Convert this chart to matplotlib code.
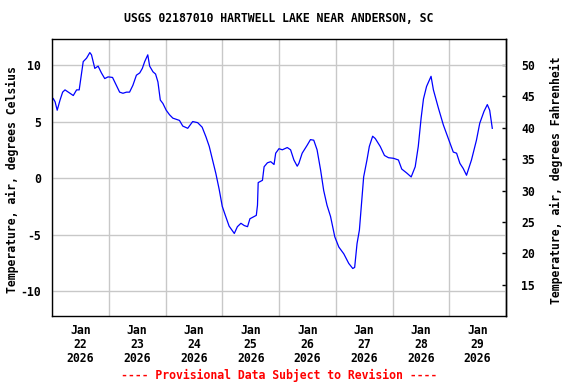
import matplotlib
matplotlib.use("Agg")
import matplotlib.pyplot as plt
import numpy as np
import pandas as pd

# hours after 2026-01-22 00:00 and air temperature (deg C)
hours = [0.0, 0.5, 1.3, 2.2, 3.4, 4.5, 5.5, 6.9, 9.0, 10.4, 11.5, 12.5, 13.2, 14.6,
         16.0, 16.7, 18.1, 19.5, 20.9, 22.3, 23.7, 25.6, 27.2, 28.6, 30.0, 31.5,
         32.8, 34.2, 35.7, 37.1, 38.2, 39.2, 40.5, 41.3, 42.7, 43.8, 44.8, 45.8,
         46.9, 48.3, 49.7, 51.1, 53.9, 55.3, 57.4, 59.5, 61.6, 63.5, 65.1, 66.5,
         67.9, 69.3, 70.7, 72.0, 73.3, 74.9, 77.1, 78.4, 79.9, 81.3, 82.7, 83.7,
         85.5, 86.4, 86.9, 87.2, 89.0, 89.7, 91.1, 92.5, 93.9, 94.6, 96.0, 97.4,
         99.5, 100.9, 102.3, 103.7, 104.4, 105.8, 107.9, 109.3, 110.7, 112.1,
         113.6, 114.9, 116.3, 117.8, 119.6, 121.3, 123.4, 125.5, 127.2, 128.0,
         129.0, 130.0, 130.8, 131.8, 133.2, 134.2, 135.6, 136.7, 138.8, 140.6,
         142.3, 144.4, 146.5, 147.9, 150.0, 151.9, 153.6, 154.9, 156.1, 157.1,
         158.4, 160.3, 161.3, 163.4, 165.5, 167.6, 169.7, 171.1, 172.5, 173.9,
         175.3, 176.0, 177.4, 179.5, 180.9, 182.7, 184.1, 185.1, 186.2]
temp_c = [6.75, 7.05, 6.75, 6.0, 6.9, 7.6, 7.8, 7.6, 7.3, 7.8, 7.8, 9.3, 10.3, 10.6,
          11.1, 10.9, 9.7, 9.9, 9.3, 8.8, 8.95, 8.9, 8.2, 7.6, 7.5, 7.6,
          7.6, 8.2, 9.1, 9.3, 9.7, 10.3, 10.9, 9.9, 9.4, 9.2, 8.5, 6.9,
          6.6, 6.0, 5.6, 5.3, 5.1, 4.6, 4.4, 5.0, 4.9, 4.5, 3.65, 2.8,
          1.6, 0.4, -1.0, -2.5, -3.3, -4.25, -4.9, -4.3, -4.0, -4.2, -4.3, -3.6,
          -3.4, -3.3, -2.4, -0.4, -0.2, 1.0, 1.35, 1.45, 1.2, 2.2, 2.6, 2.5,
          2.7, 2.5, 1.6, 1.05, 1.3, 2.2, 2.9, 3.4, 3.35, 2.5,
          0.7, -1.1, -2.4, -3.4, -5.2, -6.1, -6.7, -7.55, -8.0, -7.9,
          -5.8, -4.6, -2.5, 0.1, 1.6, 2.8, 3.7, 3.5, 2.8, 2.0,
          1.8, 1.75, 1.6, 0.8, 0.45, 0.1, 1.0, 2.8, 5.3, 7.0,
          8.1, 9.0, 7.8, 6.2, 4.7, 3.5, 2.3, 2.2, 1.3, 0.85,
          0.25, 0.7, 1.6, 3.35, 4.85, 5.9, 6.5, 6.0, 4.4]

day_labels = ["Jan\n22\n2026", "Jan\n23\n2026", "Jan\n24\n2026", "Jan\n25\n2026",
              "Jan\n26\n2026", "Jan\n27\n2026", "Jan\n28\n2026", "Jan\n29\n2026"]
c_ticks = [-10, -5, 0, 5, 10]
f_ticks = [15, 20, 25, 30, 35, 40, 45, 50]

title = "USGS 02187010 HARTWELL LAKE NEAR ANDERSON, SC"
note = "---- Provisional Data Subject to Revision ----"

plt.rcParams["font.family"] = "DejaVu Sans Mono"
plt.rcParams["font.weight"] = "bold"
plt.rcParams["font.size"] = 8.3
plt.rcParams["axes.unicode_minus"] = False

start = pd.Timestamp("2026-01-22")
t = start + pd.to_timedelta(hours, unit="h")
midnights = pd.date_range(start, periods=9, freq="D")
noons = midnights[:-1] + pd.Timedelta(hours=12)

fig = plt.figure(figsize=(5.76, 3.84), dpi=100)
ax = fig.add_axes([52/576, 1 - 316/384, 454/576, 277/384])

ax.plot(t, temp_c, color="#0000ff", lw=0.9)

ax.set_xlim(midnights[0], midnights[-1])
ax.set_ylim(-12.2, 12.3)
ax.set_xticks(noons)
ax.set_xticklabels(day_labels, linespacing=1.1)
ax.set_xticks(midnights, minor=True)
ax.set_yticks(c_ticks)
ax.set_yticklabels([str(v) for v in c_ticks])
ax.tick_params(axis="x", which="both", length=0, pad=6)
ax.tick_params(axis="y", length=0, pad=8)
ax.grid(True, axis="y", color="#c8c8c8", lw=1)
ax.grid(True, axis="x", which="minor", color="#c8c8c8", lw=1)
for s in ax.spines.values():
    s.set_linewidth(1.0)

sec = ax.secondary_yaxis("right", functions=(lambda c: c * 9 / 5 + 32,
                                             lambda f: (f - 32) * 5 / 9))
sec.set_yticks(f_ticks)
sec.tick_params(direction="in", length=3, pad=11, width=1)
sec.spines["right"].set_linewidth(1.0)

fig.text(279/576, 1 - 19/384, title, ha="center", va="center")
fig.text(279/576, 1 - 375/384, note, ha="center", va="center", color="red")
fig.text(12/576, 1 - 180/384, "Temperature, air, degrees Celsius",
         rotation=90, ha="center", va="center")
fig.text(556/576, 1 - 180/384, "Temperature, air, degrees Fahrenheit",
         rotation=90, ha="center", va="center")

fig.savefig("out.png", dpi=100)
